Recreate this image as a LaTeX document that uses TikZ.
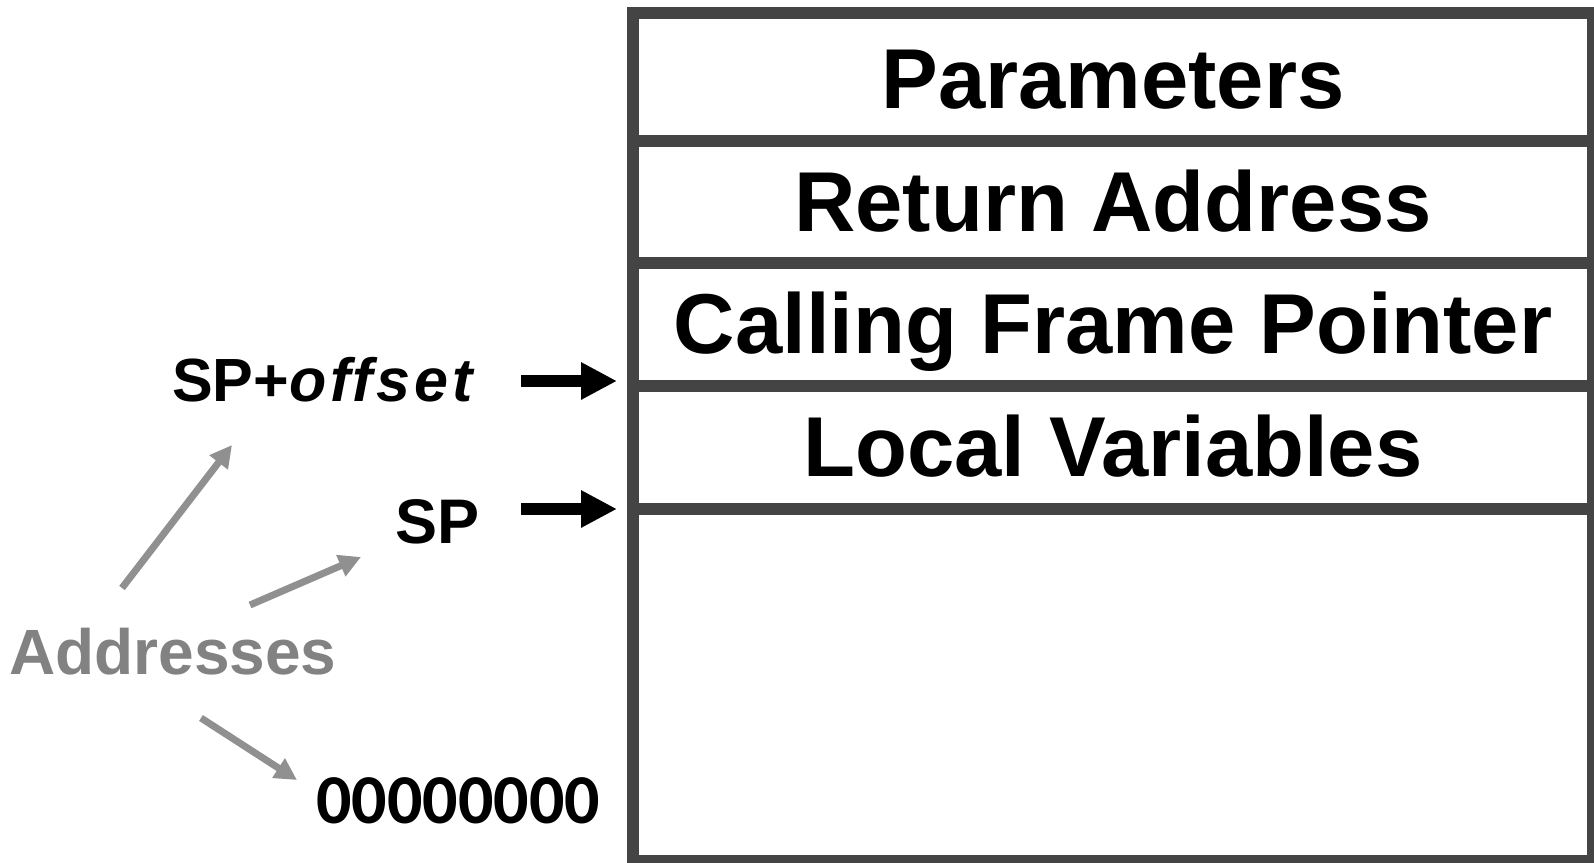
\documentclass[tikz,border=0pt]{standalone}
\usepackage{fontspec}
\setmainfont{Liberation Sans}
\newfontfamily\calib{Carlito}
\usetikzlibrary{arrows.meta}
\definecolor{boxgray}{HTML}{444444}
\definecolor{addrgray}{HTML}{828282}
\definecolor{arrgray}{HTML}{909090}
\tikzset{
  rowtext/.style={anchor=base, inner sep=0pt, font=\fontsize{85}{100}\selectfont\bfseries},
  lbl/.style={anchor=base west, inner sep=0pt},
  frameline/.style={draw=boxgray, line width=12pt},
  ptr/.style={line width=12pt, -{Triangle[length=36pt,width=35pt]}},
  addrarrow/.style={draw=arrgray, line width=7pt, -{Triangle[length=22pt,width=22pt]}}
}
\begin{document}
\begin{tikzpicture}[x=1pt,y=-1pt]
\useasboundingbox (0,0) rectangle (1594,862);
% stack frame
\draw[frameline] (633,13) rectangle (1593,861);
\draw[frameline] (627,141) -- (1599,141);
\draw[frameline] (627,263) -- (1599,263);
\draw[frameline] (627,386) -- (1599,386);
\draw[frameline] (627,509) -- (1599,509);
\node[rowtext] (par) at (1113,108) {Parameters};
\node[rowtext] (ret) at (1113,231) {Return Address};
\node[rowtext] (cfp) at (1113,353) {Calling Frame Pointer};
\node[rowtext] (lv) at (1113,476) {Local Variables};
% labels
\node[lbl, font=\fontsize{61}{64}\selectfont\bfseries] (spo) at (172,401) {SP+\textit{\addfontfeature{LetterSpace=6}offset}};
\node[lbl, font=\fontsize{63}{66}\selectfont\bfseries] (sp) at (395,543) {SP};
\node[lbl, font=\fontsize{64}{68}\selectfont\bfseries, text=addrgray] (addr) at (9,674) {Addresses};
\node[lbl, font=\fontsize{70}{74}\selectfont\calib\bfseries] (zero) at (316,823) {00000000};
% pointer arrows
\coordinate (spo-from) at (521,381);
\coordinate (spo-to) at (617,381);
\coordinate (sp-from) at (521,509);
\coordinate (sp-to) at (617,509);
\draw[ptr] (spo-from) -- (spo-to);
\draw[ptr] (sp-from) -- (sp-to);
% address arrows
\coordinate (a1) at (122,588);
\coordinate (b1) at (232,445);
\coordinate (a2) at (250,605);
\coordinate (b2) at (361,557);
\coordinate (a3) at (201,718);
\coordinate (b3) at (297,780);
\draw[addrarrow] (a1) -- (b1);
\draw[addrarrow] (a2) -- (b2);
\draw[addrarrow] (a3) -- (b3);
\end{tikzpicture}
\end{document}
